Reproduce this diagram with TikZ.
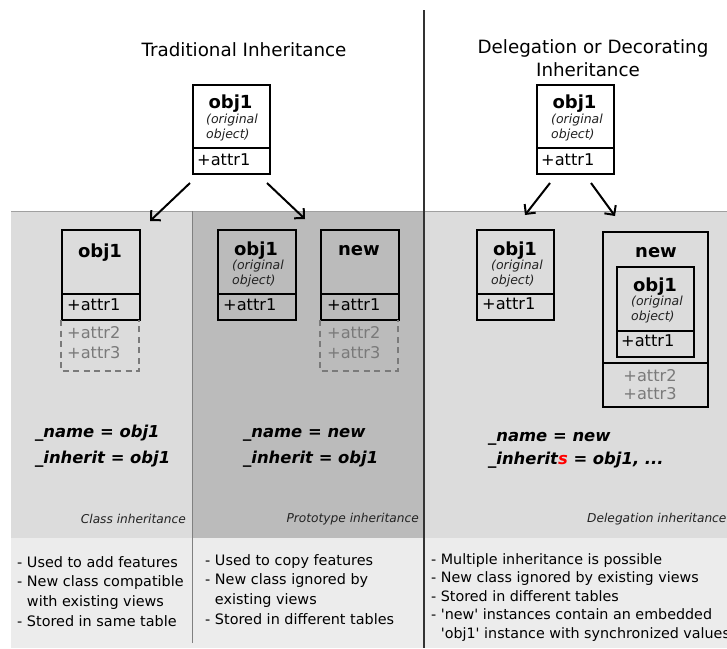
\documentclass[tikz,border=0pt]{standalone}
\usepackage{fontspec}
\setmainfont{DejaVu Sans}
\usetikzlibrary{arrows.meta}
\definecolor{bandL}{HTML}{DCDCDC}
\definecolor{bandD}{HTML}{BBBBBB}
\definecolor{lowband}{HTML}{ECECEC}
\definecolor{edgegray}{HTML}{A0A0A0}
\definecolor{attrgray}{HTML}{7A7A7A}
\definecolor{origgray}{HTML}{222222}
\newcommand{\fsz}[1]{\fontsize{#1}{#1}\selectfont}
\newcommand{\notesA}{\fontsize{14.4}{19.7}\selectfont}
\newcommand{\notesB}{\fontsize{14.3}{18.6}\selectfont}
\newcommand{\sq}{\textquotesingle}
\tikzset{
  umlbox/.style={draw, line width=2.3pt, inner sep=0pt, anchor=north west},
  objname/.style={font=\bfseries\fsz{18}, anchor=base, inner sep=0pt},
  origtxt/.style={font=\itshape\fsz{12.5}, text=origgray, anchor=base west, inner sep=0pt},
  attrtxt/.style={font=\fsz{16.2}, anchor=base west, inner sep=0pt},
  attrgrey/.style={font=\fsz{16.2}, text=attrgray, anchor=base west, inner sep=0pt},
  codetxt/.style={font=\bfseries\itshape\fsz{16.4}, anchor=base west, inner sep=0pt},
  kindlabel/.style={font=\itshape\fsz{12.2}, text=origgray, inner sep=0pt},
  notes/.style={anchor=north west, align=left, inner sep=0pt},
  title/.style={font=\fsz{18.3}, anchor=base, inner sep=0pt},
  dashbox/.style={draw=attrgray, line width=2pt, dash pattern=on 6pt off 4.5pt},
  inharrow/.style={line width=2pt, -{Straight Barb[length=7pt,width=14pt]}},
  divline/.style={line width=2.3pt}
}
\begin{document}
\begin{tikzpicture}[x=1pt,y=-1pt]
\useasboundingbox (0,0) rectangle (727,648);
\fill[white] (0,0) rectangle (727,648);
% bands
\fill[bandL] (11,211) rectangle (727,538);
\fill[bandD] (192,211) rectangle (424,538);
\draw[edgegray, line width=1.2pt] (11,211.5) -- (727,211.5);
\fill[lowband] (11,538) rectangle (727,648);
\draw[gray, line width=1pt] (192,211) -- (192,643);
\draw[line width=1.4pt, black!80] (424,10) -- (424,648);

% titles
\node[title] (titleL) at (244,56) {Traditional Inheritance};
\node[title] (titleR1) at (593,53) {Delegation or Decorating};
\node[title] (titleR2) at (588,76) {Inheritance};

% top left obj1
\node[umlbox, minimum width=77pt, minimum height=89pt] (topL) at (192,84) {};
\draw[divline] (192,148) -- (269,148);
\node[objname] (topLn) at (230.5,108) {obj1};
\node[origtxt] (topLo1) at (206,123) {(original};
\node[origtxt] (topLo2) at (206,138) {object)};
\node[attrtxt] (topLa) at (197,165) {+attr1};

% top right obj1
\node[umlbox, minimum width=77pt, minimum height=89pt] (topR) at (536,84) {};
\draw[divline] (536,148) -- (613,148);
\node[objname] (topRn) at (574.5,108) {obj1};
\node[origtxt] (topRo1) at (551,123) {(original};
\node[origtxt] (topRo2) at (551,138) {object)};
\node[attrtxt] (topRa) at (541,165) {+attr1};

% arrows
\coordinate (aL1s) at (190,183);
\coordinate (aL1e) at (150,221);
\coordinate (aL2s) at (267,183);
\coordinate (aL2e) at (305,219);
\coordinate (aR1s) at (550,183);
\coordinate (aR1e) at (525,215);
\coordinate (aR2s) at (591,183);
\coordinate (aR2e) at (615,216);
\draw[inharrow] (aL1s) -- (aL1e);
\draw[inharrow] (aL2s) -- (aL2e);
\draw[inharrow] (aR1s) -- (aR1e);
\draw[inharrow] (aR2s) -- (aR2e);

% class inheritance panel
\node[umlbox, minimum width=78pt, minimum height=90pt] (clsObj) at (61,229) {};
\draw[divline] (61,294) -- (139,294);
\node[objname] (clsObjn) at (100,257) {obj1};
\node[attrtxt] (clsObja) at (67,310) {+attr1};
\draw[dashbox] (61,320) -- (61,371) -- (139,371) -- (139,320);
\node[attrgrey] (clsA2) at (67,338) {+attr2};
\node[attrgrey] (clsA3) at (67,358) {+attr3};

% prototype panel
\node[umlbox, minimum width=78pt, minimum height=90pt] (proObj) at (217,229) {};
\draw[divline] (217,294) -- (295,294);
\node[objname] (proObjn) at (256,255) {obj1};
\node[origtxt] (proO1) at (232,269) {(original};
\node[origtxt] (proO2) at (232,284) {object)};
\node[attrtxt] (proObja) at (223,310) {+attr1};

\node[umlbox, minimum width=78pt, minimum height=90pt] (proNew) at (320,229) {};
\draw[divline] (320,294) -- (398,294);
\node[objname] (proNewn) at (359,255) {new};
\node[attrtxt] (proNewa) at (327,310) {+attr1};
\draw[dashbox] (320,320) -- (320,371) -- (398,371) -- (398,320);
\node[attrgrey] (proA2) at (327,338) {+attr2};
\node[attrgrey] (proA3) at (327,358) {+attr3};

% delegation panel
\node[umlbox, minimum width=77pt, minimum height=90pt] (delObj) at (476,229) {};
\draw[divline] (476,294) -- (553,294);
\node[objname] (delObjn) at (515,255) {obj1};
\node[origtxt] (delO1) at (491,269) {(original};
\node[origtxt] (delO2) at (491,284) {object)};
\node[attrtxt] (delObja) at (482,309) {+attr1};

\node[umlbox, minimum width=105pt, minimum height=175pt] (delNew) at (602,231) {};
\node[objname] (delNewn) at (656,257) {new};
\node[umlbox, minimum width=77pt, minimum height=90pt] (delInner) at (616,266) {};
\draw[divline] (616,331) -- (693,331);
\node[objname] (delInn) at (655,291) {obj1};
\node[origtxt] (delIo1) at (631,305) {(original};
\node[origtxt] (delIo2) at (631,320) {object)};
\node[attrtxt] (delIa) at (621,346) {+attr1};
\draw[divline] (602,363) -- (707,363);
\node[attrgrey, anchor=base] (delA2) at (650,381) {+attr2};
\node[attrgrey, anchor=base] (delA3) at (650,399) {+attr3};

% code
\node[codetxt] (cL1) at (35,437) {\_name = obj1};
\node[codetxt] (cL2) at (35,463) {\_inherit = obj1};
\node[codetxt] (cM1) at (243,437) {\_name = new};
\node[codetxt] (cM2) at (243,463) {\_inherit = obj1};
\node[codetxt] (cR1) at (488,441) {\_name = new};
\node[codetxt] (cR2) at (488,464) {\_inherit\textcolor{red}{s} = obj1, ...};

% kind labels
\node[kindlabel, anchor=base east] (kL) at (186,523) {Class inheritance};
\node[kindlabel, anchor=base east] (kM) at (419,522) {Prototype inheritance};
\node[kindlabel, anchor=base west] (kR) at (587,522) {Delegation inheritance};

% notes
\node[notes, font=\notesA] (nL) at (17,556) {- Used to add features\\- New class compatible\\\phantom{- }with existing views\\- Stored in same table};
\node[notes, font=\notesA] (nM) at (205,554) {- Used to copy features\\- New class ignored by\\\phantom{- }existing views\\- Stored in different tables};
\node[notes, font=\notesB] (nR) at (431,553) {- Multiple inheritance is possible\\- New class ignored by existing views\\- Stored in different tables\\- \sq new\sq{} instances contain an embedded\\\phantom{- }\sq obj1\sq{} instance with synchronized values};
\end{tikzpicture}
\end{document}
